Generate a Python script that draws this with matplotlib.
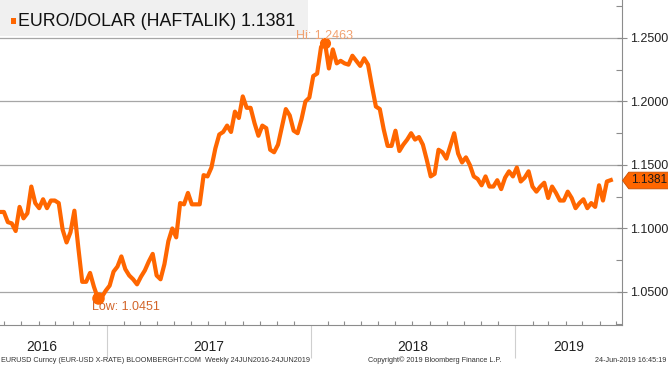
"""EUR/USD weekly line chart, Bloomberg style."""

import matplotlib

matplotlib.use("Agg")
import matplotlib.dates as mdates  # noqa: E402
import matplotlib.pyplot as plt  # noqa: E402
import matplotlib.ticker as mticker  # noqa: E402
import matplotlib.transforms as mtransforms  # noqa: E402
import numpy as np  # noqa: E402
import pandas as pd  # noqa: E402
from matplotlib.patches import Rectangle  # noqa: E402

START = "2016-06-24"
X_END = "2019-07-11"
TITLE = "EURO/DOLAR (HAFTALIK)"
YEARS = ["2016", "2017", "2018", "2019"]
FOOT_LEFT = "EURUSD Curncy (EUR-USD X-RATE) BLOOMBERGHT.COM  Weekly 24JUN2016-24JUN2019"
FOOT_MID = "Copyright\u00a9 2019 Bloomberg Finance L.P."
FOOT_RIGHT = "24-Jun-2019 16:45:19"

# weekly closes
EURUSD = [
    1.113, 1.113, 1.105, 1.104, 1.098, 1.117, 1.108, 1.112, 1.133, 1.120,
    1.116, 1.123, 1.116, 1.122, 1.122, 1.120, 1.099, 1.089, 1.097, 1.114,
    1.085, 1.058, 1.058, 1.065, 1.054, 1.0451, 1.046, 1.051, 1.055, 1.066,
    1.070, 1.078, 1.068, 1.063, 1.060, 1.056, 1.062, 1.067, 1.074, 1.080,
    1.063, 1.060, 1.072, 1.090, 1.100, 1.093, 1.120, 1.119, 1.128, 1.119,
    1.119, 1.119, 1.142, 1.141, 1.148, 1.163, 1.174, 1.176, 1.181, 1.176,
    1.192, 1.187, 1.204, 1.195, 1.195, 1.183, 1.173, 1.181, 1.179, 1.162,
    1.160, 1.166, 1.180, 1.194, 1.189, 1.177, 1.175, 1.186, 1.200, 1.203,
    1.220, 1.222, 1.243, 1.2463, 1.226, 1.241, 1.230, 1.232, 1.230, 1.229,
    1.236, 1.232, 1.228, 1.234, 1.229, 1.212, 1.196, 1.194, 1.178, 1.165,
    1.165, 1.177, 1.161, 1.166, 1.170, 1.175, 1.170, 1.172, 1.166, 1.154,
    1.141, 1.143, 1.162, 1.160, 1.155, 1.165, 1.175, 1.159, 1.152, 1.156,
    1.150, 1.141, 1.139, 1.134, 1.141, 1.133, 1.133, 1.138, 1.131, 1.140,
    1.145, 1.141, 1.148, 1.137, 1.140, 1.145, 1.133, 1.129, 1.133, 1.136,
    1.124, 1.133, 1.128, 1.122, 1.122, 1.129, 1.124, 1.116, 1.120, 1.123,
    1.116, 1.120, 1.117, 1.134, 1.122, 1.137, 1.1381,
]

ORANGE = "#ff6600"
GRID = "#a6a6a6"
AXIS = "#8c8c8c"
FONT = ["Liberation Sans", "DejaVu Sans"]

plt.rcParams.update({"font.family": FONT, "figure.dpi": 100})


def main():
    dates = pd.date_range(START, periods=len(EURUSD), freq="7D")
    vals = np.array(EURUSD)

    fig = plt.figure(figsize=(6.68, 3.65), dpi=100, facecolor="white")
    ax = fig.add_axes([0.0, 40 / 365, 622 / 668, 325 / 365])
    # axes drawn over the title box, so keep its background transparent
    ax.patch.set_visible(False)
    ax.set_zorder(2)
    ax.plot(dates, vals, color=ORANGE, lw=3.0, solid_joinstyle="round", zorder=3)

    ax.set_xlim(pd.Timestamp(START), pd.Timestamp(X_END))
    ax.set_ylim(1.024, 1.2799)

    for s in ("left", "top"):
        ax.spines[s].set_visible(False)
    for s in ("right", "bottom"):
        ax.spines[s].set_color(AXIS)
        ax.spines[s].set_linewidth(0.8)

    # y axis on the right
    ax.yaxis.tick_right()
    ax.yaxis.set_major_locator(mticker.MultipleLocator(0.05))
    ax.yaxis.set_minor_locator(mticker.MultipleLocator(0.025))
    ax.yaxis.set_major_formatter(mticker.FormatStrFormatter("%.4f"))
    ax.tick_params(axis="y", which="major", direction="inout", length=7,
                   width=0.8, color=AXIS, labelsize=9, pad=2, labelcolor="#222222")
    ax.tick_params(axis="y", which="minor", direction="in", length=4,
                   width=0.8, color=AXIS)
    ax.grid(axis="y", which="major", color=GRID, lw=0.9)

    # x axis: year separators + monthly ticks
    ax.xaxis.set_major_locator(mdates.YearLocator())
    ax.xaxis.set_minor_locator(mdates.MonthLocator())
    ax.xaxis.set_major_formatter(mticker.NullFormatter())
    ax.tick_params(axis="x", which="major", direction="out", length=24,
                   width=0.8, color="#cfcfcf")
    ax.tick_params(axis="x", which="minor", direction="in", length=3,
                   width=0.8, color=AXIS)

    trans = mtransforms.blended_transform_factory(ax.transData, fig.transFigure)
    lo, hi = ax.get_xlim()
    bounds = [lo] + [mdates.date2num(pd.Timestamp(f"{y}-01-01")) for y in YEARS[1:]] + [hi]
    for i, year in enumerate(YEARS):
        mid = (bounds[i] + bounds[i + 1]) / 2
        if i == 0:
            mid -= 20
        fig.text(mid, 18 / 365, year, transform=trans, ha="center",
                 va="center", fontsize=10, color="#222222")

    # hi / low markers
    ih = int(np.argmax(vals))
    il = int(np.argmin(vals))
    ax.plot(dates[ih], vals[ih], "o", ms=7, color=ORANGE, zorder=4)
    ax.plot(dates[il], vals[il], "o", ms=8, color=ORANGE, zorder=4)
    ax.annotate(f"Hi: {vals[ih]:.4f}", (dates[ih], vals[ih]), xytext=(0, 4.5),
                textcoords="offset points", ha="center", va="center",
                fontsize=9, color="#f2a271", zorder=6, annotation_clip=False)
    ax.annotate(f"Low: {vals[il]:.4f}", (dates[il], vals[il]), xytext=(-4, -6),
                textcoords="offset points", ha="left", va="center",
                fontsize=9, color="#d2652a", zorder=6)

    # last value tag on the axis
    last = vals[-1]
    tag = [(0, 0), (6, 8), (46, 8), (46, -8), (6, -8), (0, 0)]
    ax.plot([1.0], [last], marker=tag, ms=69, color=ORANGE, mec="#c84f00",
            mew=0.6, transform=ax.get_yaxis_transform(), clip_on=False, zorder=5)
    ax.annotate(f"{last:.4f}", (1.0, last), xycoords=("axes fraction", "data"),
                xytext=(6.5, 0), textcoords="offset points", ha="left",
                va="center", fontsize=8.5, color="#1a1a1a", annotation_clip=False,
                zorder=6)

    # title box
    fig.patches.append(Rectangle((0, 1 - 36 / 365), 308 / 668, 36 / 365,
                                 transform=fig.transFigure, fc="#f0f0f0",
                                 ec="none", zorder=1))
    fig.patches.append(Rectangle((11 / 668, 1 - 24 / 365), 5 / 668, 6 / 365,
                                 transform=fig.transFigure, fc=ORANGE,
                                 ec="none", zorder=1.5))
    fig.text(18 / 668, 1 - 21 / 365, f"{TITLE} {last:.4f}", fontsize=12.8,
             ha="left", va="center", color="#111111", zorder=1.5)

    # footer
    fig.text(0.002, 5 / 365, FOOT_LEFT, fontsize=5.2, ha="left", va="center",
             color="#333333")
    fig.text(435 / 668, 5 / 365, FOOT_MID, fontsize=5.2, ha="center",
             va="center", color="#333333")
    fig.text(0.998, 5 / 365, FOOT_RIGHT, fontsize=5.2, ha="right",
             va="center", color="#333333")

    fig.savefig("out.png", dpi=100, facecolor="white")
    plt.close(fig)


if __name__ == "__main__":
    main()
